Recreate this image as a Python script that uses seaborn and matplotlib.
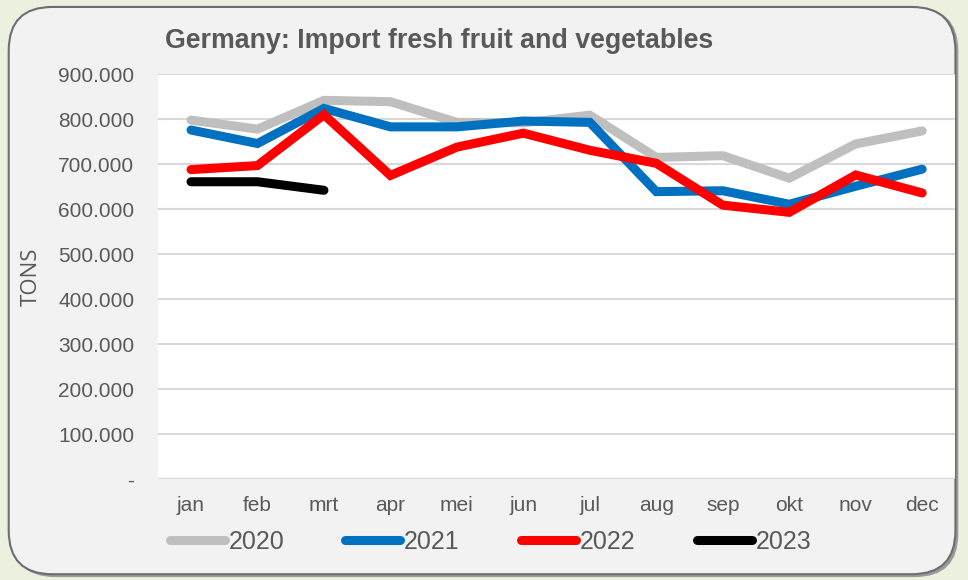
import numpy as np
import pandas as pd
import matplotlib
matplotlib.use('Agg')
import matplotlib.pyplot as plt
from matplotlib.patches import FancyBboxPatch
from matplotlib.ticker import FuncFormatter
import seaborn as sns

# values (tons)
months = ['jan', 'feb', 'mrt', 'apr', 'mei', 'jun', 'jul', 'aug', 'sep', 'okt', 'nov', 'dec']
y2020 = [798000, 778000, 842000, 839000, 793000, 792000, 809000, 715000, 719000, 669000, 745000, 774000]
y2021 = [776000, 746000, 824000, 783000, 783000, 796000, 793000, 639000, 641000, 611000, 651000, 689000]
y2022 = [688000, 697000, 810000, 675000, 738000, 769000, 731000, 702000, 609000, 593000, 676000, 636000]
y2023 = [661000, 661000, 642000]

series = {'2020': y2020, '2021': y2021, '2022': y2022, '2023': y2023}
colors = {'2020': '#bfbfbf', '2021': '#0070c0', '2022': '#ff0000', '2023': '#000000'}

rows = []
for year, vals in series.items():
    for i, v in enumerate(vals):
        rows.append({'month': i, 'tons': v, 'year': year})
df = pd.DataFrame(rows)

sns.set_style('white')
plt.rcParams['font.family'] = ['Liberation Sans', 'DejaVu Sans']
txt = '#595959'

fig = plt.figure(figsize=(9.68, 5.80), dpi=100)
fig.patch.set_facecolor('#ebf1de')

# rounded panel with a soft shadow
shadow = FancyBboxPatch((0.012, 0.005), 0.978, 0.982, boxstyle='round,pad=0,rounding_size=0.045',
                        transform=fig.transFigure, facecolor='#9a9a9a', edgecolor='none', zorder=-3,
                        mutation_aspect=968 / 580)
panel = FancyBboxPatch((0.009, 0.010), 0.978, 0.978, boxstyle='round,pad=0,rounding_size=0.045',
                       transform=fig.transFigure, facecolor='#f2f2f2', edgecolor='#6e6e6e', linewidth=1.5,
                       zorder=-2, mutation_aspect=968 / 580)
fig.patches.extend([shadow, panel])

ax = fig.add_axes([0.163, 0.174, 0.824, 0.698])
ax.set_facecolor('white')

sns.lineplot(data=df, x='month', y='tons', hue='year', palette=colors, linewidth=6.5,
             ax=ax, legend=False, sort=False)
for ln in ax.get_lines():
    ln.set_solid_capstyle('round')
    ln.set_solid_joinstyle('miter')

ax.set_xlim(-0.5, 11.5)
ax.set_ylim(0, 900000)
ax.set_yticks(np.arange(0, 900001, 100000))
ax.yaxis.set_major_formatter(FuncFormatter(lambda v, p: '-' if v == 0 else f'{int(v):,}'.replace(',', '.')))
ax.set_xticks(range(len(months)))
ax.set_xticklabels(months)
ax.grid(axis='y', color='#d9d9d9', linewidth=1.5)
ax.set_axisbelow(True)
for s in ax.spines.values():
    s.set_visible(False)
ax.tick_params(axis='both', length=0, labelsize=15, colors=txt, pad=12)
ax.tick_params(axis='y', pad=17)
ax.set_xlabel('')
ax.set_ylabel('TONS', fontsize=16, color=txt, family=['Open Sans', 'DejaVu Sans'])
ax.yaxis.set_label_coords(-0.146, 0.5)

fig.text(0.17, 0.93, 'Germany: Import fresh fruit and vegetables', fontsize=19.3,
         fontweight='bold', color=txt, ha='left', va='center')

handles = [plt.Line2D([], [], color=colors[y], linewidth=6.5, solid_capstyle='round') for y in series]
fig.legend(handles, list(series.keys()), loc='center left', bbox_to_anchor=(0.152, 0.066),
           ncol=4, frameon=False, fontsize=18, handlelength=2.2, handletextpad=0.15,
           columnspacing=2.45, labelcolor=txt)

fig.savefig('out.png', dpi=100, facecolor=fig.get_facecolor())
